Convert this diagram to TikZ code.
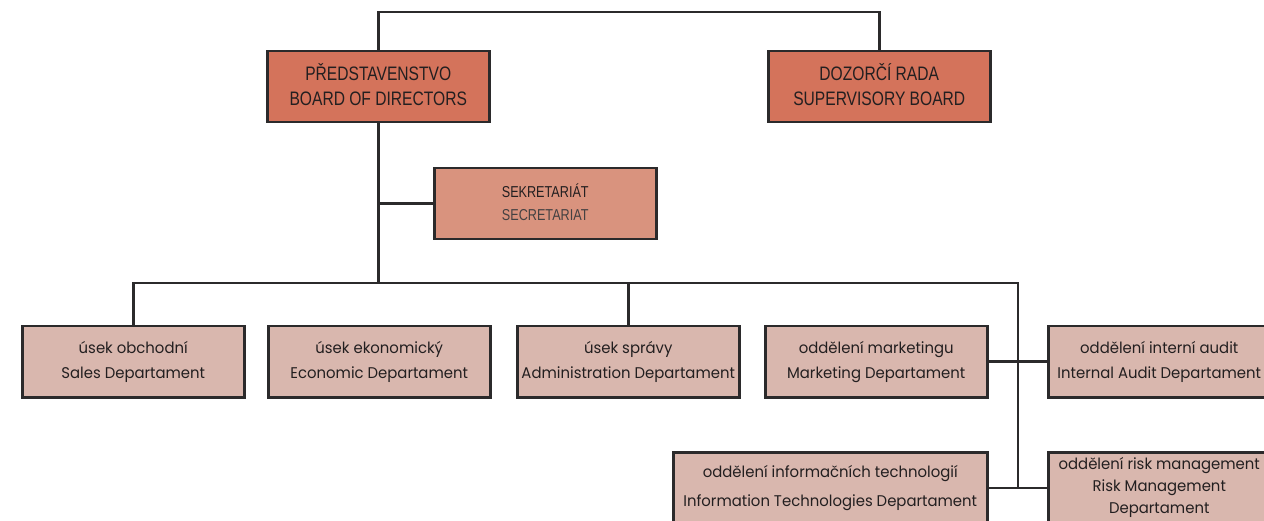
\documentclass[tikz,border=0pt]{standalone}
\usepackage{fontspec}
\setmainfont[FakeStretch=0.96]{Poppins}
\newfontfamily\capsfont[FakeStretch=0.8]{Liberation Sans}
\definecolor{linec}{HTML}{2B2A2B}
\definecolor{textc}{HTML}{231F20}
\definecolor{boardc}{HTML}{D4735B}
\definecolor{secc}{HTML}{D9937E}
\definecolor{deptc}{HTML}{D9B7AE}
\tikzset{
  box/.style={draw=linec, line width=2.5pt, anchor=north west, inner sep=0pt, align=center, text=textc},
  topbox/.style={box, fill=boardc, minimum width=222pt, minimum height=71pt, font=\capsfont\fontsize{19.5}{25}\selectfont},
  secbox/.style={box, fill=secc, minimum width=222pt, minimum height=71pt, font=\capsfont\fontsize{15.8}{23}\selectfont},
  deptbox/.style={box, fill=deptc, minimum width=222pt, minimum height=71pt, font=\fontsize{15.5}{25}\selectfont},
  conn/.style={draw=linec, line width=2.5pt}
}
\begin{document}
\begin{tikzpicture}[x=1pt,y=-1pt]
\useasboundingbox (0,0) rectangle (1264,521);
\clip (0,0) rectangle (1264,521);
\fill[white] (0,0) rectangle (1264,521);
% top
\node[topbox] (board) at (266,50) {PŘEDSTAVENSTVO\\BOARD OF DIRECTORS\vphantom{g}};
\node[topbox] (sup) at (767,50) {DOZORČÍ RADA\\SUPERVISORY BOARD\vphantom{g}};
\node[secbox] (sec) at (433,167) {SEKRETARIÁT\\\textcolor{textc!85}{SECRETARIAT}\vphantom{g}};
% departments
\node[deptbox] (sales) at (21,325) {úsek obchodní\\Sales Departament};
\node[deptbox] (econ) at (267,325) {úsek ekonomický\\Economic Departament};
\node[deptbox] (admin) at (516,325) {úsek správy\\Administration Departament};
\node[deptbox] (mkt) at (764,325) {oddělení marketingu\\Marketing Departament};
\node[deptbox] (audit) at (1047,325) {oddělení interní audit\\Internal Audit Departament};
\node[deptbox, minimum width=314pt, font=\fontsize{15.5}{29}\selectfont] (it) at (672,451) {oddělení informačních technologií\\Information Technologies Departament};
\node[deptbox, font=\fontsize{15.5}{22}\selectfont] (risk) at (1047,451) {oddělení risk management\\Risk Management\\Departament};
% connectors
\coordinate (top) at (378,12);
\coordinate (busl) at (0,283);
\coordinate (busr) at (1018,283);
\coordinate (busb) at (1018,487);
\draw[conn] (board.north) -- (board.north |- top) -| (sup.north);
\draw[conn] (board.south) -- (board.south |- busl);
\draw[conn] (sec.west) -- (sec.west -| board.south);
\draw[conn] (sales.north) -- (sales.north |- busl) -- (busr) -- (busb);
\draw[conn] (admin.north) -- (admin.north |- busl);
\draw[conn] (mkt.east) -- (audit.west);
\draw[conn] (it.east) -- (risk.west);
\end{tikzpicture}
\end{document}
